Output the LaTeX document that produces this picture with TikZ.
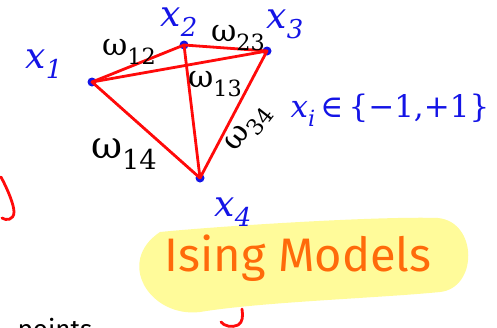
\documentclass[tikz,border=0pt]{standalone}
\usepackage{fontspec}
\setsansfont{Fira Sans}
\newfontfamily\mfont{DejaVu Serif}
\definecolor{penblue}{HTML}{1414E6}
\definecolor{penred}{HTML}{FF0A0A}
\definecolor{penorange}{HTML}{FF6A0A}
\definecolor{hlyellow}{HTML}{FFFB9A}
\newcommand{\sub}[1]{\raisebox{-0.28em}{\scalebox{0.72}{#1}}}
\begin{document}
\begin{tikzpicture}[x=1pt,y=-1pt,
  vdot/.style={circle,fill=penblue,inner sep=0pt,minimum size=9pt},
  edge/.style={draw=penred,line width=2.8pt,line cap=round},
  vlabel/.style={text=penblue,inner sep=0pt,font=\mfont\fontsize{36}{36}\selectfont},
  wlabel/.style={text=black,inner sep=0pt,font=\mfont\fontsize{31}{31}\selectfont},
  stroke/.style={draw=penred,line width=2.8pt,line cap=round}]
\useasboundingbox (0,0) rectangle (497,327);
\clip (0,0) rectangle (497,327);
% highlight
\fill[hlyellow] (160,232) .. controls (220,226) and (380,216) .. (438,218)
  .. controls (478,222) and (478,288) .. (440,292)
  .. controls (380,298) and (260,302) .. (200,312)
  .. controls (150,318) and (115,262) .. (160,232) -- cycle;
% vertices
\node[vdot] (x1) at (92,82) {};
\node[vdot] (x2) at (184,45) {};
\node[vdot] (x3) at (267,51) {};
\node[vdot] (x4) at (200,178) {};
% edges
\draw[edge] (x1.center) -- (x2.center);
\draw[edge] (x2.center) -- (x3.center);
\draw[edge] (x1.center) -- (x3.center);
\draw[edge] (x1.center) -- (x4.center);
\draw[edge] (x2.center) -- (x4.center);
\draw[edge] (x3.center) -- (x4.center);
% vertex labels
\node[vlabel] (l1) at (44,64) {\itshape x\sub{1}};
\node[vlabel] (l2) at (179,22) {\itshape x\sub{2}};
\node[vlabel] (l3) at (285,24) {\itshape x\sub{3}};
\node[vlabel] (l4) at (233,212) {\itshape x\sub{4}};
% weight labels
\node[wlabel] (w12) at (129,52) {ω\sub{12}};
\node[wlabel] (w23) at (238,38) {ω\sub{23}};
\node[wlabel] (w13) at (215,84) {ω\sub{13}};
\node[wlabel,font=\mfont\fontsize{38}{38}\selectfont] (w14) at (124,154) {ω\sub{14}};
\node[wlabel,rotate=52] (w34) at (249,129) {ω\sub{34}};
% domain
\node[vlabel,font=\mfont\fontsize{31}{31}\selectfont] (dom) at (390,110) {{\itshape x\sub{i}}\,∈\,\{−1,+1\}};
% title
\node[text=penorange,font=\sffamily\fontsize{47}{47}\selectfont] (title) at (298,258) {Ising Models};
% partial strokes
\draw[stroke] (1,177) .. controls (8,190) and (14,205) .. (14,212)
  .. controls (14,220) and (6,221) .. (2,218);
\draw[stroke] (242,309) .. controls (243,316) and (243,322) .. (238,325)
  .. controls (232,328) and (224,326) .. (221,322);
% cut-off text
\node[anchor=base west,font=\sffamily\fontsize{26}{26}\selectfont] (pts) at (14,338) {points};
\end{tikzpicture}
\end{document}
